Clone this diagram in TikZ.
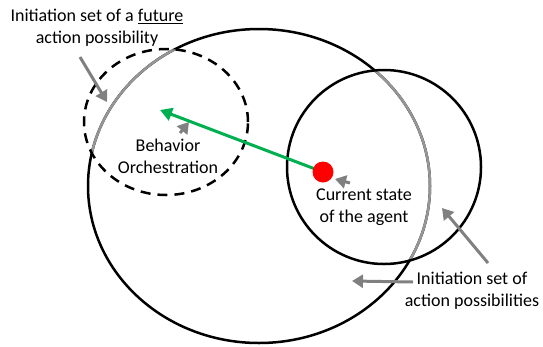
\documentclass[tikz,border=0pt]{standalone}
\usepackage{fontspec}
\setmainfont{Carlito}
\usetikzlibrary{arrows.meta}
\definecolor{arcgray}{RGB}{150,150,150}
\definecolor{arrowgray}{RGB}{128,128,128}
\definecolor{pathgreen}{RGB}{0,176,80}
\tikzset{
  settext/.style={align=center, font=\fontsize{18}{22}\selectfont, inner sep=0pt},
  pointer/.style={draw=arrowgray, line width=3pt, -{Triangle[length=11pt,width=13pt]}},
  bigset/.style={x radius=171pt, y radius=157pt},
  futureset/.style={x radius=82pt, y radius=73pt},
}
\begin{document}
\begin{tikzpicture}[x=1pt,y=-1pt]
				\useasboundingbox (0,0) rectangle (543,346);
				\coordinate (C) at (259,186);
				\coordinate (F) at (166,122);
				\coordinate (A) at (384,167);
				\coordinate (S) at (323,172);
				% sets
				\draw[line width=2.5pt] (C) ellipse [bigset];
				\begin{scope}
					\clip (F) ellipse [futureset];
					\draw[arcgray, line width=2.5pt] (C) ellipse [bigset];
				\end{scope}
				\begin{scope}
					\clip (A) circle (97pt);
					\draw[arcgray, line width=2.5pt] (C) ellipse [bigset];
				\end{scope}
				\draw[line width=2.5pt, dash pattern=on 10pt off 7pt] (F) ellipse [futureset];
				\draw[line width=2.5pt] (A) circle (97pt);
				% texts
				\node[settext] (futuretext) at (97,28) {Initiation set of a \underline{future}\\action possibility};
				\node[settext] (behavior) at (168,156) {Behavior\\Orchestration};
				\node[settext] (state) at (364,207) {Current state\\of the agent};
				\node[settext] (settxt) at (472,291) {Initiation set of\\action possibilities};
				% pointers
				\coordinate (f1) at (80,57);
				\coordinate (f2) at (107,102);
				\coordinate (b1) at (180,133);
				\coordinate (b2) at (189,122);
				\coordinate (s1) at (350,183);
				\coordinate (s2) at (335,179);
				\coordinate (i1) at (488,263);
				\coordinate (i2) at (442,208);
				\coordinate (j1) at (413,282);
				\coordinate (j2) at (352,281);
				\coordinate (G) at (160,110);
				\draw[pointer] (f1) to (f2);
				\draw[pointer] (b1) to (b2);
				\draw[pointer] (s1) to (s2);
				\draw[pointer] (i1) to (i2);
				\draw[pointer] (j1) to (j2);
				\draw[pathgreen, line width=3pt, -{Triangle[length=12pt,width=13pt]}] (S) to (G);
				\fill[red] (S) circle (10.5pt);
\end{tikzpicture}
\end{document}
